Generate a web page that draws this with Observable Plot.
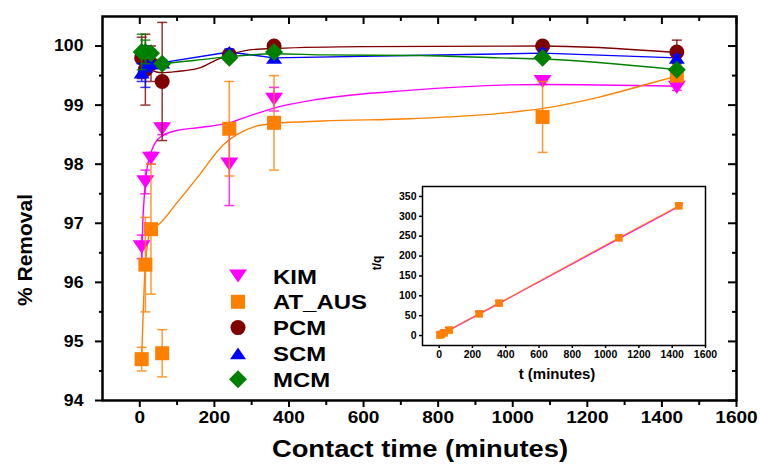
<!DOCTYPE html>
<html><head><meta charset="utf-8">
<script src="https://cdn.jsdelivr.net/npm/d3@7"></script>
<script src="https://cdn.jsdelivr.net/npm/@observablehq/plot@0.6"></script>
<style>
body{margin:0;background:#fff;}
#wrap{position:relative;width:760px;height:465px;font-family:"Liberation Sans",Arial,sans-serif;}
#wrap svg{font-family:"Liberation Sans",Arial,sans-serif;}
#inset{position:absolute;left:340px;top:176px;}
#legend{position:absolute;left:0;top:0;pointer-events:none;}
#main{position:absolute;left:0;top:0;}
</style></head><body><div id="wrap"><div id="main"></div><div id="legend"></div><div id="inset"></div></div>
<script>
// ---------- data ----------
const times = [5, 15, 30, 60, 240, 360, 1080, 1440];
const seriesNames = ["KIM", "AT_AUS", "PCM", "SCM", "MCM"];
const seriesColors = ["#ff00ff", "#ff8000", "#800000", "#0000ff", "#008000"];

const kimValues = [96.6, 97.7, 98.1, 98.6, 98.0, 99.1, 99.4, 99.3];
const kimErrors = [0.2, 0.2, 0.1, 0.1, 0.7, 0.2, 0.05, 0.05];
const atValues  = [94.7, 96.3, 96.9, 94.8, 98.6, 98.7, 98.8, 99.5];
const atErrors  = [0.2, 0.8, 1.1, 0.4, 0.8, 0.8, 0.6, 0.1];
const pcmValues = [99.8, 99.6, 99.7, 99.4, 99.85, 100.0, 100.0, 99.9];
const pcmErrors = [0.35, 0.6, 0.3, 1.0, 0.05, 0.05, 0.05, 0.2];
const scmValues = [99.55, 99.65, 99.7, 99.72, 99.9, 99.8, 99.9, 99.8];
const scmErrors = [0.15, 0.35, 0.05, 0.05, 0.05, 0.05, 0.05, 0.05];
const mcmValues = [99.9, 99.9, 99.88, 99.7, 99.8, 99.9, 99.8, 99.6];
const mcmErrors = [0.3, 0.2, 0.05, 0.05, 0.05, 0.05, 0.05, 0.05];

// fitted curves
const kimFitT = [5, 8, 12, 15, 20, 30, 45, 60, 100, 160, 240, 300, 360, 480, 720, 1080, 1440];
const kimFitV = [96.3, 97.0, 97.45, 97.7, 97.95, 98.2, 98.4, 98.48, 98.57, 98.62, 98.7, 98.83, 98.95, 99.1, 99.25, 99.35, 99.32];
const atFitT  = [5, 15, 30, 49, 100, 160, 224, 260, 310, 365, 490, 725, 966, 1077, 1235, 1369, 1440];
const atFitV  = [94.7, 96.3, 96.9, 96.97, 97.35, 97.82, 98.33, 98.5, 98.64, 98.69, 98.73, 98.77, 98.86, 98.94, 99.14, 99.37, 99.49];
const pcmFitT = [5, 15, 30, 45, 60, 100, 160, 200, 240, 290, 365, 600, 1080, 1440];
const pcmFitV = [99.78, 99.68, 99.6, 99.56, 99.55, 99.57, 99.63, 99.75, 99.85, 99.93, 99.96, 99.99, 100.0, 99.89];
const scmFitT = [5, 15, 30, 60, 240, 360, 1080, 1440];
const scmFitV = [99.57, 99.68, 99.7, 99.72, 99.9, 99.8, 99.88, 99.8];
const mcmFitT = [5, 15, 30, 60, 150, 240, 360, 500, 750, 966, 1080, 1440];
const mcmFitV = [99.9, 99.85, 99.78, 99.71, 99.76, 99.82, 99.87, 99.85, 99.84, 99.8, 99.78, 99.6];

// inset: t/q vs t
const insetT = [5, 15, 30, 60, 240, 360, 1080, 1440];
const insetKim = [1.1, 3.3, 6.7, 13.5, 54.0, 80.8, 243.7, 324.8];
const insetAt  = [1.2, 3.5, 6.9, 13.9, 54.6, 81.6, 246.0, 326.4];

const xMajor = [0, 200, 400, 600, 800, 1000, 1200, 1400, 1600];
const xMinor = [100, 300, 500, 700, 900, 1100, 1300, 1500];
const yMajor = [94, 95, 96, 97, 98, 99, 100];
const yMinor = [94.5, 95.5, 96.5, 97.5, 98.5, 99.5];
const insetXTicks = [0, 200, 400, 600, 800, 1000, 1200, 1400, 1600];
const insetYTicks = [0, 50, 100, 150, 200, 250, 300, 350];

// ---------- symbols ----------
const rad = s => Math.sqrt(s / Math.PI);
const symTriDown = {draw(c, s){const r = rad(s), h = 0.73*r; c.moveTo(-r,-h); c.lineTo(r,-h); c.lineTo(0,h); c.closePath();}};
const symTriUp   = {draw(c, s){const r = rad(s), h = 0.73*r; c.moveTo(-r,h); c.lineTo(r,h); c.lineTo(0,-h); c.closePath();}};
const symSquare  = {draw(c, s){const r = rad(s); c.rect(-r,-r,2*r,2*r);}};
const symDiamond = {draw(c, s){const r = rad(s); c.moveTo(0,-r); c.lineTo(r,0); c.lineTo(0,r); c.lineTo(-r,0); c.closePath();}};
const symCircle  = {draw(c, s){const r = rad(s); c.moveTo(r,0); c.arc(0,0,r,0,2*Math.PI);}};
const symCap     = {draw(c, s){const r = rad(s); c.moveTo(-r,0); c.lineTo(r,0);}};

const values = [kimValues, atValues, pcmValues, scmValues, mcmValues];
const errors = [kimErrors, atErrors, pcmErrors, scmErrors, mcmErrors];
const fits = [[kimFitT,kimFitV],[atFitT,atFitV],[pcmFitT,pcmFitV],[scmFitT,scmFitV],[mcmFitT,mcmFitV]];
const symbols = [symTriDown, symSquare, symCircle, symTriUp, symDiamond];
const sizes = [9, 7, 7.5, 8, 9];
const fitCurves = ["monotone-x", "monotone-x", "monotone-x", "linear", "monotone-x"];

const font = '"Liberation Sans", Arial, sans-serif';
const fmt = d => String(d);

const curveMarks = fits.map(([T, V], i) =>
  Plot.line(T.map((t, j) => ({t, v: V[j]})), {x: "t", y: "v", stroke: seriesColors[i], strokeWidth: 1.4, curve: fitCurves[i]}));

const pointMarks = [];
values.forEach((vals, i) => {
  const rows = times.map((t, j) => ({t, v: vals[j], lo: vals[j] - errors[i][j], hi: vals[j] + errors[i][j]}));
  const col = seriesColors[i];
  pointMarks.push(
    Plot.ruleX(rows, {x: "t", y1: "lo", y2: "hi", stroke: col, strokeWidth: 1.5, strokeOpacity: 0.8}),
    Plot.dot(rows, {x: "t", y: "lo", symbol: symCap, r: 5, stroke: col, strokeWidth: 1.5, strokeOpacity: 0.8, fill: "none"}),
    Plot.dot(rows, {x: "t", y: "hi", symbol: symCap, r: 5, stroke: col, strokeWidth: 1.5, strokeOpacity: 0.8, fill: "none"}),
    Plot.dot(rows, {x: "t", y: "v", symbol: symbols[i], r: sizes[i], fill: col, stroke: "none"})
  );
});

const main = Plot.plot({
  width: 760, height: 465,
  marginLeft: 102, marginRight: 24, marginTop: 16, marginBottom: 65,
  style: {fontFamily: font, background: "transparent", overflow: "visible"},
  x: {domain: [-100, 1600], axis: null},
  y: {domain: [94, 100.5], axis: null},
  marks: [
    ...curveMarks,
    ...pointMarks,
    Plot.axisX(xMajor, {anchor: "bottom", tickSize: 7, tickPadding: 3, strokeWidth: 2, fontSize: 17, fontWeight: "bold", tickFormat: fmt, label: null}),
    Plot.axisX(xMinor, {anchor: "bottom", tickSize: 5, strokeWidth: 2, tickFormat: () => "", label: null}),
    Plot.axisX(xMajor, {anchor: "top", tickSize: -7, strokeWidth: 2, tickFormat: () => "", label: null}),
    Plot.axisX(xMinor, {anchor: "top", tickSize: -4, strokeWidth: 2, tickFormat: () => "", label: null}),
    Plot.axisY(yMajor, {anchor: "left", tickSize: 7, tickPadding: 12, strokeWidth: 2, fontSize: 17, fontWeight: "bold", tickFormat: fmt, label: null}),
    Plot.axisY(yMinor, {anchor: "left", tickSize: 3, strokeWidth: 2, tickFormat: () => "", label: null}),
    Plot.axisY(yMajor, {anchor: "right", tickSize: -9, strokeWidth: 2, tickFormat: () => "", label: null}),
    Plot.axisY(yMinor, {anchor: "right", tickSize: -5, strokeWidth: 2, tickFormat: () => "", label: null}),
    Plot.frame({stroke: "black", strokeWidth: 2.5})
  ]
});
document.getElementById("main").appendChild(main);

// horizontal stretch of text (the reference lettering is wide)
function stretch(root, selector, sx) {
  root.querySelectorAll(selector).forEach(t => {
    const tr = t.getAttribute("transform") || "";
    t.setAttribute("transform", tr + ` scale(${sx},1)`);
  });
}
stretch(main, 'g[aria-label="x-axis tick label"] text', 1.12);
stretch(main, 'g[aria-label="y-axis tick label"] text', 1.04);

// axis titles
const ms = d3.select(main);
ms.append("text").attr("transform", "translate(420,457) scale(1.14,1)").attr("text-anchor", "middle")
  .attr("font-size", 24).attr("font-weight", "bold").attr("fill", "black").text("Contact time (minutes)");
ms.append("text").attr("transform", "translate(32,250) rotate(-90)").attr("text-anchor", "middle")
  .attr("font-size", 21).attr("font-weight", "bold").attr("fill", "black").text("% Removal");

// ---------- legend ----------
const leg = d3.select("#legend").append("svg").attr("width", 760).attr("height", 465)
  .style("font-family", font);
seriesNames.forEach((name, i) => {
  const g = leg.append("g").attr("transform", `translate(238,${276 + i * 25.8})`);
  g.append("path").attr("d", d3.symbol(symbols[i], Math.PI * sizes[i] * sizes[i])()).attr("fill", seriesColors[i]);
  g.append("text").attr("transform", "translate(35,7.5) scale(1.14,1)").attr("font-size", 21).attr("font-weight", "bold").text(name);
});

// ---------- inset ----------
const insetMarks = [
  Plot.frame({fill: "white", stroke: "none"}),
  Plot.line(insetT.map((t, j) => ({t, v: insetKim[j]})), {x: "t", y: "v", stroke: "#ff00ff", strokeWidth: 1.3}),
  Plot.line(insetT.map((t, j) => ({t, v: insetAt[j]})), {x: "t", y: "v", stroke: "#ff8000", strokeWidth: 1.3, strokeOpacity: 0.75}),
  Plot.dot(insetT.map((t, j) => ({t, v: insetKim[j]})), {x: "t", y: "v", symbol: symTriDown, r: 4.5, fill: "#ff00ff"}),
  Plot.dot(insetT.map((t, j) => ({t, v: insetAt[j]})), {x: "t", y: "v", symbol: symSquare, r: 3.8, fill: "#ff8000"}),
  Plot.axisX(insetXTicks, {anchor: "bottom", tickSize: 3, tickPadding: 2, strokeWidth: 1.5, fontSize: 10, fontWeight: "bold", tickFormat: fmt, label: null}),
  Plot.axisY(insetYTicks, {anchor: "left", tickSize: 3, tickPadding: 3, strokeWidth: 1.5, fontSize: 10, fontWeight: "bold", tickFormat: fmt, label: null}),
  Plot.frame({stroke: "black", strokeWidth: 1.5})
];
const inset = Plot.plot({
  width: 380, height: 214,
  marginLeft: 82, marginRight: 15, marginTop: 10, marginBottom: 45,
  style: {fontFamily: font, background: "transparent", overflow: "visible"},
  x: {domain: [-100, 1600], axis: null},
  y: {domain: [-25, 375], axis: null},
  marks: insetMarks
});
stretch(inset, 'g[aria-label="x-axis tick label"] text', 1.05);
stretch(inset, 'g[aria-label="y-axis tick label"] text', 1.05);
const is = d3.select(inset);
is.append("text").attr("transform", "translate(217,203)").attr("text-anchor", "middle")
  .attr("font-size", 15).attr("font-weight", "bold").attr("fill", "black").text("t (minutes)");
is.append("text").attr("transform", "translate(41,87) rotate(-90)").attr("text-anchor", "middle")
  .attr("font-size", 12).attr("font-weight", "bold").attr("fill", "black").text("t/q");
document.getElementById("inset").appendChild(inset);
</script></body></html>
